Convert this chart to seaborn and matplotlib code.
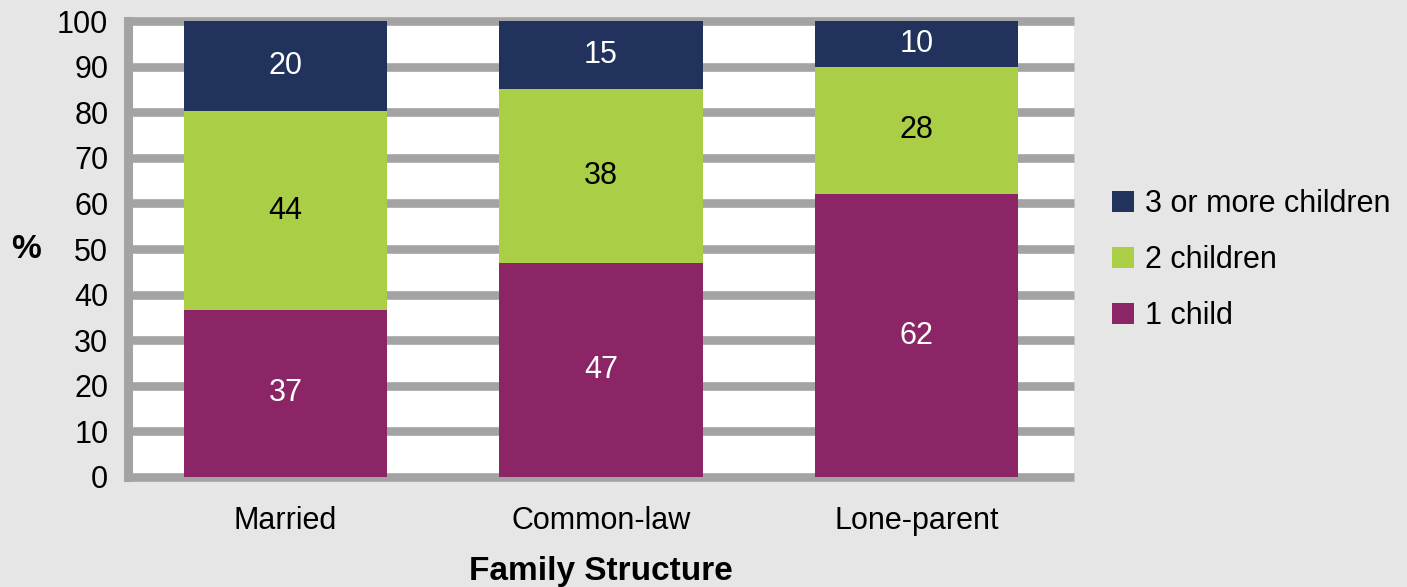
import numpy as np
import pandas as pd
import matplotlib
matplotlib.use('Agg')
import matplotlib.pyplot as plt
from matplotlib.patches import Patch
import seaborn as sns

# data
families = ['Married', 'Common-law', 'Lone-parent']
one_child = [37, 47, 62]
two_children = [44, 38, 28]
three_plus = [20, 15, 10]
yticks = [0, 10, 20, 30, 40, 50, 60, 70, 80, 90, 100]

c_one = '#8B2566'
c_two = '#AACE46'
c_three = '#21325D'
grid_gray = '#A3A3A3'
bg = '#E6E6E6'

sns.set_theme(style='white')
plt.rcParams['font.family'] = ['Liberation Sans', 'DejaVu Sans']
plt.rcParams['text.color'] = 'black'

# bars are shown as shares of 100%
df = pd.DataFrame({'family': families, 'one': one_child, 'two': two_children, 'three': three_plus})
total = df[['one', 'two', 'three']].sum(axis=1)
df['p1'] = df['one'] / total * 100
df['p2'] = df['two'] / total * 100
df['p3'] = df['three'] / total * 100
df['top1'] = df['p1']
df['top2'] = df['p1'] + df['p2']
df['top3'] = df['top2'] + df['p3']

fig = plt.figure(figsize=(14.07, 5.87), dpi=100, facecolor=bg)
ax = fig.add_axes([0.0908, 0.1874, 0.6725, 0.7768])
ax.set_facecolor('white')

# cumulative bars, tallest first
sns.barplot(data=df, x='family', y='top3', color=c_three, saturation=1, width=0.645, linewidth=0, ax=ax)
sns.barplot(data=df, x='family', y='top2', color=c_two, saturation=1, width=0.645, linewidth=0, ax=ax)
sns.barplot(data=df, x='family', y='top1', color=c_one, saturation=1, width=0.645, linewidth=0, ax=ax)

fs = 22
for i, row in df.iterrows():
    ax.text(i, row['p1'] / 2, str(row['one']), ha='center', va='center', color='white', fontsize=fs)
    ax.text(i, row['top1'] + row['p2'] / 2, str(row['two']), ha='center', va='center', color='black', fontsize=fs)
    ax.text(i, row['top2'] + row['p3'] / 2, str(row['three']), ha='center', va='center', color='white', fontsize=fs)

ax.set_xlim(-0.5, 2.5)
ax.set_ylim(0, 100)
ax.set_yticks(yticks)
ax.set_axisbelow(True)
ax.yaxis.grid(True, color=grid_gray, linewidth=6.2, solid_capstyle='butt')
ax.xaxis.grid(False)
for gl in ax.get_ygridlines():
    gl.set_clip_on(False)
    gl.set_solid_capstyle('butt')

for s in ['top', 'right', 'bottom']:
    ax.spines[s].set_visible(False)
ax.spines['left'].set_color(grid_gray)
ax.spines['left'].set_linewidth(6.5)
ax.spines['left'].set_capstyle('projecting')

ax.tick_params(axis='y', length=0, pad=14, labelsize=fs, colors='black')
ax.tick_params(axis='x', length=0, pad=21, labelsize=fs, colors='black')
ax.set_xlabel('Family Structure', fontsize=24, fontweight='bold', labelpad=14, color='black')
ax.set_ylabel('')
fig.text(26 / 1407, 1 - 250 / 587, '%', fontsize=24, fontweight='bold', ha='center', va='center', color='black')

handles = [Patch(facecolor=c_three, edgecolor='none', label='3 or more children'),
           Patch(facecolor=c_two, edgecolor='none', label='2 children'),
           Patch(facecolor=c_one, edgecolor='none', label='1 child')]
leg = fig.legend(handles=handles, loc='center left', bbox_to_anchor=(0.782, 1 - 260 / 587),
                 frameon=False, fontsize=fs, handlelength=0.7, handleheight=0.7,
                 handletextpad=0.35, labelspacing=0.85, borderaxespad=0)
for t in leg.get_texts():
    t.set_color('black')

fig.savefig('out.png', dpi=100, facecolor=bg)
